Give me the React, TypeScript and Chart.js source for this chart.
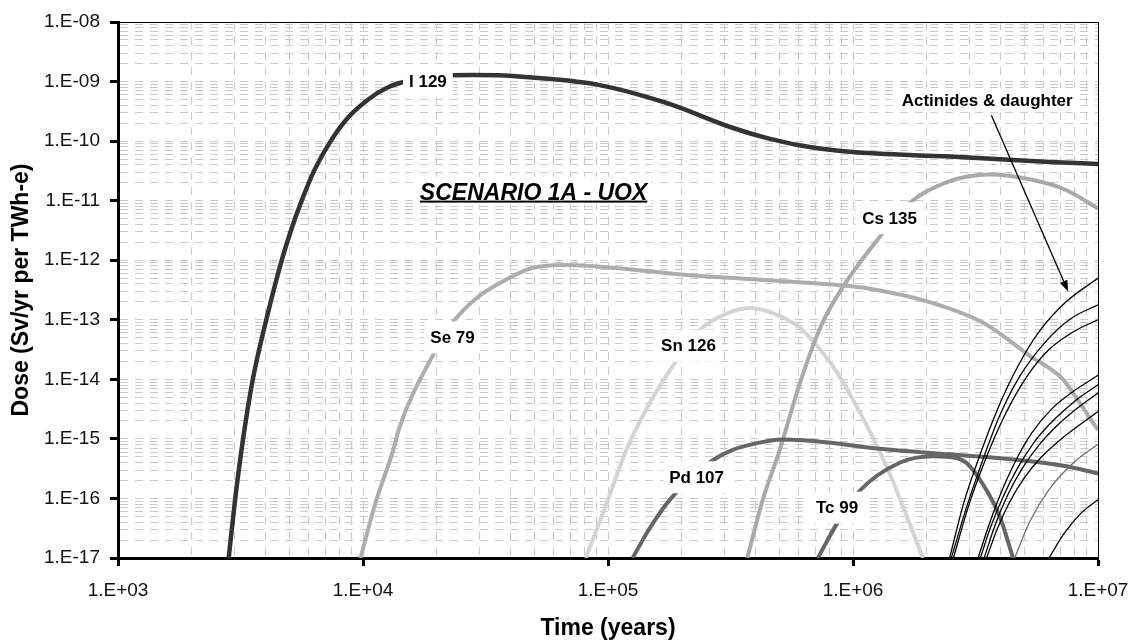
import React, { useEffect, useRef } from 'react';
import { Chart, registerables } from 'chart.js';

Chart.register(...registerables);

// ---- axis ticks ----
const xTickValues = [1e3, 1e4, 1e5, 1e6, 1e7];
const xTickLabels = ['1.E+03', '1.E+04', '1.E+05', '1.E+06', '1.E+07'];
const yTickValues = [1e-17, 1e-16, 1e-15, 1e-14, 1e-13, 1e-12, 1e-11, 1e-10, 1e-9, 1e-8];
const yTickLabels = ['1.E-17', '1.E-16', '1.E-15', '1.E-14', '1.E-13', '1.E-12', '1.E-11', '1.E-10', '1.E-09', '1.E-08'];

// ---- series ----
const i129Years = [2.83e3, 3.01e3, 3.24e3, 3.55e3, 4.03e3, 4.66e3, 5.08e3, 5.62e3, 6.31e3, 7.38e3, 8.71e3, 1.05e4, 1.26e4, 1.59e4, 2.0e4, 2.82e4, 3.55e4, 4.92e4, 9.25e4, 1.73e5, 3.24e5, 4.47e5, 6.03e5, 9.68e5, 2.48e6, 6.34e6, 1e7];
const i129Dose = [1e-17, 1e-16, 1e-15, 1e-14, 1e-13, 1e-12, 3.16e-12, 1e-11, 3.16e-11, 1e-10, 2.51e-10, 5.01e-10, 7.94e-10, 1.07e-9, 1.23e-9, 1.29e-9, 1.28e-9, 1.17e-9, 8.71e-10, 4.37e-10, 1.66e-10, 1.12e-10, 8.51e-11, 6.61e-11, 5.5e-11, 4.47e-11, 4.12e-11];

const se79Years = [9.77e3, 1.12e4, 1.33e4, 1.41e4, 1.95e4, 2.34e4, 2.88e4, 3.63e4, 4.9e4, 6.76e4, 1.07e5, 2.0e5, 6.03e5, 1.135e6, 2.12e6, 3.4e6, 5.25e6, 7.19e6, 8.41e6, 1e7];
const se79Dose = [1e-17, 7.94e-17, 6.61e-16, 1.58e-15, 2.75e-14, 9.33e-14, 2.24e-13, 4.17e-13, 7.41e-13, 8.32e-13, 7.41e-13, 5.75e-13, 4.27e-13, 3.39e-13, 1.91e-13, 8.91e-14, 2.51e-14, 1e-14, 4.07e-15, 1.41e-15];

const sn126Years = [8.11e4, 9.84e4, 1.19e5, 1.48e5, 1.87e5, 2.37e5, 2.95e5, 3.78e5, 4.79e5, 6.05e5, 8.28e5, 1e6, 1.37e6, 1.93e6];
const sn126Dose = [1e-17, 8e-17, 6.61e-16, 4.0e-15, 1.86e-14, 6.76e-14, 1.2e-13, 1.58e-13, 1.26e-13, 7.41e-14, 1.66e-14, 4.57e-15, 3.47e-16, 1e-17];

const pd107Years = [1.26e5, 1.48e5, 1.79e5, 2.59e5, 3.16e5, 3.78e5, 5.18e5, 7.08e5, 1.32e6, 2.48e6, 4.65e6, 7.24e6, 1e7];
const pd107Dose = [1e-17, 3.16e-17, 9.55e-17, 3.98e-16, 6.31e-16, 7.94e-16, 9.77e-16, 9.12e-16, 6.76e-16, 5.5e-16, 4.47e-16, 3.55e-16, 2.63e-16];

const tc99Years = [7.19e5, 8.55e5, 1.06e6, 1.55e6, 2.12e6, 2.64e6, 2.9e6, 3.4e6, 3.97e6, 4.5e6];
const tc99Dose = [1e-17, 3.63e-17, 1.32e-16, 3.98e-16, 5.13e-16, 4.79e-16, 3.98e-16, 1.7e-16, 5.01e-17, 1e-17];

const cs135Years = [3.7e5, 4.3e5, 5.01e5, 6.03e5, 7.41e5, 9.12e5, 1.29e6, 1.7e6, 2.45e6, 3.63e6, 5.37e6, 7.41e6, 1e7];
const cs135Dose = [1e-17, 1e-16, 6.31e-16, 7.94e-15, 7.94e-14, 3.63e-13, 2.51e-12, 9.12e-12, 2.09e-11, 2.75e-11, 2.24e-11, 1.51e-11, 7.41e-12];

const act1Years = [2.48e6, 2.82e6, 3.31e6, 3.89e6, 4.68e6, 5.75e6, 7.41e6, 1e7];
const act1Dose = [1e-17, 7.94e-17, 5.62e-16, 3.16e-15, 1.58e-14, 6.31e-14, 2.0e-13, 5.01e-13];
const act2Years = [2.52e6, 2.88e6, 3.39e6, 3.98e6, 4.79e6, 6.17e6, 7.76e6, 1e7];
const act2Dose = [1e-17, 6.31e-17, 4.47e-16, 2.51e-15, 1.12e-14, 4.47e-14, 1.05e-13, 1.78e-13];
const act3Years = [2.57e6, 2.95e6, 3.47e6, 4.17e6, 5.13e6, 6.31e6, 7.94e6, 1e7];
const act3Dose = [1e-17, 7.08e-17, 4.47e-16, 2.51e-15, 1.12e-14, 3.16e-14, 6.31e-14, 1e-13];
const act4Years = [3.24e6, 3.55e6, 3.98e6, 4.57e6, 5.37e6, 6.46e6, 7.94e6, 1e7];
const act4Dose = [1e-17, 3.16e-17, 1.12e-16, 3.98e-16, 1.26e-15, 3.16e-15, 6.31e-15, 1.17e-14];
const act5Years = [3.31e6, 3.63e6, 4.07e6, 4.68e6, 5.5e6, 6.61e6, 8.13e6, 1e7];
const act5Dose = [1e-17, 3.16e-17, 1e-16, 3.16e-16, 8.91e-16, 2.09e-15, 4.47e-15, 8.13e-15];
const act6Years = [3.43e6, 3.8e6, 4.27e6, 4.9e6, 5.75e6, 6.92e6, 8.32e6, 1e7];
const act6Dose = [1e-17, 3.55e-17, 1.12e-16, 3.16e-16, 7.94e-16, 1.78e-15, 3.39e-15, 5.89e-15];
const act7Years = [3.51e6, 3.89e6, 4.37e6, 5.01e6, 5.89e6, 7.08e6, 8.51e6, 1e7];
const act7Dose = [1e-17, 3.16e-17, 8.91e-17, 2.24e-16, 5.01e-16, 1e-15, 1.78e-15, 2.88e-15];
const act8Years = [4.57e6, 5.25e6, 6.31e6, 7.94e6, 1e7];
const act8Dose = [1e-17, 3.98e-17, 1.41e-16, 3.98e-16, 8.13e-16];
const act9Years = [6.31e6, 7.24e6, 8.51e6, 1e7];
const act9Dose = [1e-17, 2.51e-17, 5.62e-17, 9.55e-17];

// ---- annotations (data coordinates) ----
const labelTexts = ['I 129', 'Se 79', 'Sn 126', 'Pd 107', 'Tc 99', 'Cs 135', 'Actinides & daughter'];
const labelYears = [1.84e4, 2.32e4, 2.13e5, 2.3e5, 8.61e5, 1.41e6, 3.53e6];
const labelDoses = [1.01e-9, 5.06e-14, 3.67e-14, 2.27e-16, 7.0e-17, 5.07e-12, 4.88e-10];
const scenarioText = 'SCENARIO 1A - UOX';
const scenarioYear = 4.97e4;
const scenarioDose = 1.42e-11;
const arrowYears = [3.67e6, 7.55e6];
const arrowDoses = [2.73e-10, 2.99e-13];

const FONT = "'Liberation Sans', Arial, sans-serif";

const pts = (xs: number[], ys: number[]) => xs.map((x, i) => ({ x, y: ys[i] }));

const isMajor = (v: number) => {
  const l = Math.log10(v);
  return Math.abs(l - Math.round(l)) < 1e-6;
};

const buildLogTicks = (majors: number[]) => {
  const t: { value: number }[] = [];
  for (let i = 0; i < majors.length - 1; i++) {
    for (let k = 1; k <= 9; k++) t.push({ value: k * majors[i] });
  }
  t.push({ value: majors[majors.length - 1] });
  return t;
};

const labelFor = (values: number[], labels: string[]) => (v: number) => {
  for (let i = 0; i < values.length; i++) {
    if (Math.abs(v / values[i] - 1) < 1e-6) return labels[i];
  }
  return '';
};

const annotPlugin = {
  id: 'annot',
  beforeDatasetsDraw(chart: any) {
    const { ctx, chartArea: a } = chart;
    ctx.save();
    ctx.strokeStyle = '#000';
    ctx.lineWidth = 1;
    ctx.beginPath();
    ctx.moveTo(a.left, Math.round(a.top) + 0.5);
    ctx.lineTo(Math.round(a.right) + 0.5, Math.round(a.top) + 0.5);
    ctx.lineTo(Math.round(a.right) + 0.5, a.bottom);
    ctx.stroke();
    ctx.restore();
  },
  afterDatasetsDraw(chart: any) {
    const { ctx } = chart;
    const xs = chart.scales.x;
    const ys = chart.scales.y;
    ctx.save();
    // arrow
    const x1 = xs.getPixelForValue(arrowYears[0]);
    const y1 = ys.getPixelForValue(arrowDoses[0]);
    const x2 = xs.getPixelForValue(arrowYears[1]);
    const y2 = ys.getPixelForValue(arrowDoses[1]);
    const ang = Math.atan2(y2 - y1, x2 - x1);
    ctx.strokeStyle = '#000';
    ctx.fillStyle = '#000';
    ctx.lineWidth = 1.3;
    ctx.beginPath();
    ctx.moveTo(x1, y1);
    ctx.lineTo(x2 - 8 * Math.cos(ang), y2 - 8 * Math.sin(ang));
    ctx.stroke();
    ctx.beginPath();
    ctx.moveTo(x2, y2);
    ctx.lineTo(x2 - 11 * Math.cos(ang) + 4 * Math.sin(ang), y2 - 11 * Math.sin(ang) - 4 * Math.cos(ang));
    ctx.lineTo(x2 - 11 * Math.cos(ang) - 4 * Math.sin(ang), y2 - 11 * Math.sin(ang) + 4 * Math.cos(ang));
    ctx.closePath();
    ctx.fill();

    // labels
    ctx.font = `bold 17px ${FONT}`;
    ctx.textAlign = 'center';
    ctx.textBaseline = 'middle';
    labelTexts.forEach((t, i) => {
      const cx = xs.getPixelForValue(labelYears[i]);
      const cy = ys.getPixelForValue(labelDoses[i]);
      const w = ctx.measureText(t).width;
      const isAct = i === labelTexts.length - 1;
      const bh = isAct ? 24 : 32;
      ctx.fillStyle = '#fff';
      ctx.fillRect(cx - w / 2 - 6, cy - bh / 2, w + 12, bh);
      ctx.fillStyle = '#000';
      ctx.fillText(t, cx, cy + 1);
    });

    // scenario title
    const sx = xs.getPixelForValue(scenarioYear);
    const sy = ys.getPixelForValue(scenarioDose);
    ctx.font = `italic bold 23px ${FONT}`;
    const sw = ctx.measureText(scenarioText).width;
    ctx.fillStyle = '#fff';
    ctx.fillRect(sx - sw / 2 - 4, sy - 15, sw + 8, 28);
    ctx.fillStyle = '#000';
    ctx.textBaseline = 'alphabetic';
    ctx.fillText(scenarioText, sx, sy + 8);
    ctx.fillRect(sx - sw / 2, sy + 9, sw, 2);
    ctx.restore();
  },
};

export default function App() {
  const ref = useRef<HTMLCanvasElement | null>(null);

  useEffect(() => {
    if (!ref.current) return;
    const line = (xs: number[], ys: number[], color: string, width: number) => ({
      data: pts(xs, ys),
      borderColor: color,
      backgroundColor: color,
      borderWidth: width,
      pointRadius: 0,
      fill: false,
      cubicInterpolationMode: 'monotone' as const,
    });
    const gridOpts = {
      color: '#cacaca',
      lineWidth: 1,
      tickLength: 8,
      tickWidth: 3,
      tickColor: (c: any) => (c.tick && isMajor(c.tick.value) ? '#000' : 'rgba(0,0,0,0)'),
    };
    const chart = new Chart(ref.current, {
      type: 'line',
      data: {
        datasets: [
          line(act1Years, act1Dose, '#000', 1.3),
          line(act2Years, act2Dose, '#000', 1.3),
          line(act3Years, act3Dose, '#000', 1.3),
          line(act4Years, act4Dose, '#000', 1.3),
          line(act5Years, act5Dose, '#000', 1.3),
          line(act6Years, act6Dose, '#000', 1.3),
          line(act7Years, act7Dose, '#000', 1.3),
          line(act8Years, act8Dose, '#707070', 1.3),
          line(act9Years, act9Dose, '#000', 1.3),
          line(i129Years, i129Dose, '#333333', 4.5),
          line(pd107Years, pd107Dose, '#666666', 4),
          line(tc99Years, tc99Dose, '#666666', 4),
          line(cs135Years, cs135Dose, '#a9a9a9', 4),
          line(se79Years, se79Dose, '#adadad', 4),
          line(sn126Years, sn126Dose, '#d4d4d4', 4),
        ],
      },
      options: {
        animation: false,
        responsive: false,
        maintainAspectRatio: false,
        devicePixelRatio: 1,
        layout: { padding: { top: 22, right: 33, left: 0, bottom: 0 } },
        plugins: { legend: { display: false }, tooltip: { enabled: false } },
        scales: {
          x: {
            type: 'logarithmic',
            position: 'bottom',
            min: 1e3,
            max: 1e7,
            afterBuildTicks: (s: any) => { s.ticks = buildLogTicks(xTickValues); },
            afterFit: (s: any) => { s.height = 82; s.paddingRight = 0; s.paddingLeft = 0; },
            ticks: {
              autoSkip: false,
              maxRotation: 0,
              minRotation: 0,
              padding: 13,
              color: '#111',
              font: { family: FONT, size: 19 },
              callback: (v: any) => labelFor(xTickValues, xTickLabels)(Number(v)),
            },
            grid: gridOpts,
            border: { display: true, color: '#000', width: 3, dash: [8, 7] },
            title: {
              display: true,
              text: 'Time (years)',
              color: '#000',
              font: { family: FONT, size: 23, weight: 'bold' },
              padding: { top: 0, bottom: -2 },
            },
          },
          y: {
            type: 'logarithmic',
            position: 'left',
            min: 1e-17,
            max: 1e-8,
            afterBuildTicks: (s: any) => { s.ticks = buildLogTicks(yTickValues); },
            afterFit: (s: any) => { s.width = 118; s.paddingTop = 0; s.paddingBottom = 0; },
            ticks: {
              autoSkip: false,
              padding: 10,
              color: '#111',
              font: { family: FONT, size: 19 },
              callback: (v: any) => labelFor(yTickValues, yTickLabels)(Number(v)),
            },
            grid: gridOpts,
            border: { display: true, color: '#000', width: 3, dash: [8, 7] },
            title: {
              display: true,
              text: 'Dose (Sv/yr per TWh-e)',
              color: '#000',
              font: { family: FONT, size: 23, weight: 'bold' },
              padding: { top: 8, bottom: 0 },
            },
          },
        },
      } as any,
      plugins: [annotPlugin],
    });
    return () => chart.destroy();
  }, []);

  return (
    <div style={{ position: 'fixed', left: 0, top: 0, width: 1131, height: 640, overflow: 'hidden', background: '#fff' }}>
      <canvas ref={ref} width={1131} height={640} style={{ display: 'block' }} />
    </div>
  );
}
